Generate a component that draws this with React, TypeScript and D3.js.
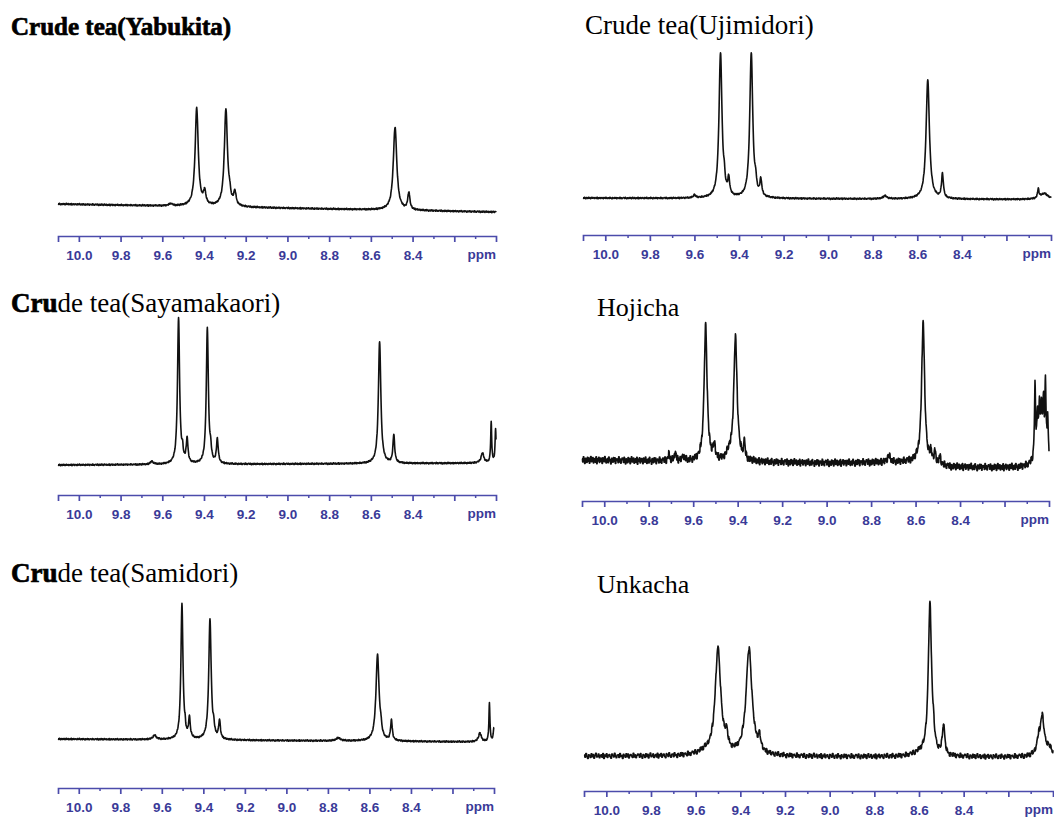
import React, { useEffect, useRef } from 'react';
import * as d3 from 'd3';

// [ppm, height, half width at half height]
type Peak = [number, number, number];

const MAJOR_TICKS = [10.0, 9.8, 9.6, 9.4, 9.2, 9.0, 8.8, 8.6, 8.4, 8.2];
const TICK_LABELS = ['10.0', '9.8', '9.6', '9.4', '9.2', '9.0', '8.8', '8.6', '8.4', ''];
const MINOR_TICKS = [9.9, 9.7, 9.5, 9.3, 9.1, 8.9, 8.7, 8.5, 8.3, 8.1];
const UNIT_LABEL = 'ppm';

// [bold part, regular part]
const TITLES: [string, string][] = [
  ['Crude tea(Yabukita)', ''],
  ['', 'Crude tea(Ujimidori)'],
  ['Cru', 'de tea(Sayamakaori)'],
  ['', 'Hojicha'],
  ['Cru', 'de tea(Samidori)'],
  ['', 'Unkacha'],
];

const YABUKITA_PEAKS: Peak[] = [
  [9.56, 2, 0.01], [9.435, 98, 0.009], [9.397, 13, 0.007], [9.295, 97, 0.009],
  [9.277, 8, 0.005], [9.252, 13, 0.007], [8.484, 83, 0.01], [8.418, 17, 0.006],
];
const UJIMIDORI_PEAKS: Peak[] = [
  [9.6, 3, 0.006], [9.483, 145, 0.008], [9.466, 10, 0.004], [9.446, 16, 0.005],
  [9.345, 145, 0.008], [9.325, 10, 0.004], [9.302, 16, 0.005], [8.745, 3, 0.01],
  [8.553, 119, 0.009], [8.487, 24, 0.005], [8.057, 9, 0.004], [8.03, 6, 0.02],
];
const SAYAMAKAORI_PEAKS: Peak[] = [
  [9.65, 3, 0.008], [9.522, 146, 0.006], [9.503, 10, 0.004], [9.481, 24, 0.005],
  [9.384, 135, 0.006], [9.368, 10, 0.004], [9.336, 24, 0.005], [8.558, 122, 0.007],
  [8.49, 28, 0.005], [8.065, 10, 0.008], [8.023, 40, 0.003], [8.002, 33, 0.003],
];
const HOJICHA_PEAKS: Peak[] = [
  [9.71, 7, 0.004], [9.68, 9, 0.004], [9.645, 5, 0.005], [9.544, 135, 0.008],
  [9.505, 14, 0.005], [9.44, 6, 0.01], [9.41, 124, 0.009], [9.37, 16, 0.004],
  [8.72, 6, 0.008], [8.566, 141, 0.008], [8.53, 10, 0.004], [8.512, 12, 0.004],
  [8.49, 8, 0.004], [8.063, 72, 0.003], [8.052, 40, 0.003], [8.043, 45, 0.003],
  [8.034, 42, 0.003], [8.025, 48, 0.003], [8.016, 70, 0.003], [8.006, 40, 0.003],
  [8.035, 18, 0.025],
];
const SAMIDORI_PEAKS: Peak[] = [
  [9.635, 4, 0.01], [9.503, 135, 0.006], [9.488, 6, 0.003], [9.467, 20, 0.005],
  [9.368, 120, 0.007], [9.35, 8, 0.004], [9.322, 18, 0.005], [8.75, 3, 0.012],
  [8.561, 86, 0.009], [8.545, 8, 0.004], [8.494, 20, 0.005], [8.068, 9, 0.008],
  [8.022, 38, 0.003], [8.0, 14, 0.004],
];
const UNKACHA_PEAKS: Peak[] = [
  [9.56, 3, 0.04], [9.5, 106, 0.015], [9.462, 14, 0.007], [9.361, 106, 0.016],
  [9.314, 12, 0.007], [8.6, 3, 0.03], [8.551, 151, 0.009], [8.535, 10, 0.005],
  [8.49, 31, 0.006], [8.064, 14, 0.01], [8.048, 36, 0.01], [8.02, 8, 0.02],
];

// baseline drift knots [ppm, level]
const YABUKITA_BASE = [[10.1, 8], [8.0, 0]];
const UJIMIDORI_BASE = [[10.1, 1.5], [8.0, 0]];
const SAYAMAKAORI_BASE = [[10.1, 0], [8.0, 2]];
const HOJICHA_BASE = [[10.1, 8], [9.0, 5], [8.6, 6], [8.45, 1], [8.1, 0], [8.0, 0]];
const SAMIDORI_BASE = [[10.1, 3], [8.0, 0]];
const UNKACHA_BASE = [[10.1, 1], [8.0, 0]];

// hand-picked baseline jitter
const NOISE = [
  0.3, -0.5, 0.8, -0.2, -0.9, 0.4, 0.1, -0.6, 0.7, -0.3, 0.5, -0.8, 0.2, 0.9, -0.4, -0.1,
  0.6, -0.7, 0.0, 0.4, -0.5, 0.8, -0.9, 0.3, -0.2, 0.7, -0.6, 0.1, 0.5, -0.3, -0.8, 0.6,
  0.2, -0.4, 0.9, -0.1, -0.7, 0.3, 0.4, -0.6, 0.8, -0.2, 0.1, -0.9, 0.5, 0.0, -0.5, 0.7,
  -0.3, 0.6, -0.8, 0.2, 0.4, -0.1, -0.6, 0.9, -0.4, 0.3, -0.7, 0.1, 0.6,
];

const SPECTRA = [
  { peaks: YABUKITA_PEAKS, base: YABUKITA_BASE },
  { peaks: UJIMIDORI_PEAKS, base: UJIMIDORI_BASE },
  { peaks: SAYAMAKAORI_PEAKS, base: SAYAMAKAORI_BASE },
  { peaks: HOJICHA_PEAKS, base: HOJICHA_BASE },
  { peaks: SAMIDORI_PEAKS, base: SAMIDORI_BASE },
  { peaks: UNKACHA_PEAKS, base: UNKACHA_BASE },
];

const LAYOUT = [
  { left: 58, right: 496, axisY: 236, zeroY: 212, tx: 11, ty: 35, fs: 25, noise: 0.8, step: 3 },
  { left: 583, right: 1051, axisY: 235, zeroY: 199.5, tx: 585, ty: 34, fs: 27, noise: 0.8, step: 3 },
  { left: 58, right: 496, axisY: 495, zeroY: 465, tx: 11, ty: 312, fs: 27, noise: 0.8, step: 3 },
  { left: 582, right: 1049, axisY: 501, zeroY: 468, tx: 597, ty: 316, fs: 26, noise: 4, step: 3 },
  { left: 58, right: 494, axisY: 788, zeroY: 742, tx: 11, ty: 582, fs: 27, noise: 0.8, step: 3 },
  { left: 584, right: 1053, axisY: 791, zeroY: 757, tx: 597, ty: 593, fs: 26, noise: 2.8, step: 4 },
];

const AXIS_COLOR = '#4b4bab';
const LABEL_COLOR = '#3a3a98';
const SERIF = '"Liberation Serif", "Times New Roman", serif';
const SANS = '"Liberation Sans", Arial, sans-serif';

const App = () => {
  const ref = useRef<SVGSVGElement>(null);

  useEffect(() => {
    const svg = d3.select(ref.current);
    svg.selectAll('*').remove();

    const grid = d3.range(0, 2101).map(i => 10.1 - i * 0.001);

    SPECTRA.forEach((spec, p) => {
      const L = LAYOUT[p];
      const x = d3.scaleLinear().domain([10.1, 8.0]).range([L.left, L.right]);
      const y = d3.scaleLinear().domain([0, 160]).range([L.zeroY, L.zeroY - 160]);
      const base = d3
        .scaleLinear()
        .domain(spec.base.map(d => d[0]))
        .range(spec.base.map(d => d[1]));

      const values = grid.map((ppm, i) => {
        let v = base(ppm) + NOISE[Math.floor(i / L.step) % NOISE.length] * L.noise;
        spec.peaks.forEach(([c, h, w]) => {
          v += (h * w * w) / ((ppm - c) * (ppm - c) + w * w);
        });
        return [ppm, v] as [number, number];
      });

      const g = svg.append('g');

      // spectrum
      g.append('path')
        .datum(values)
        .attr('fill', 'none')
        .attr('stroke', '#111')
        .attr('stroke-width', 1.6)
        .attr('stroke-linejoin', 'round')
        .attr(
          'd',
          d3
            .line<[number, number]>()
            .x(d => x(d[0]))
            .y(d => y(d[1]))
        );

      // major ticks + labels
      const major = g
        .append('g')
        .attr('transform', `translate(0,${L.axisY})`)
        .call(
          d3
            .axisBottom(x)
            .tickValues(MAJOR_TICKS)
            .tickSize(6)
            .tickSizeOuter(6)
            .tickPadding(8)
            .tickFormat(d => TICK_LABELS[MAJOR_TICKS.indexOf(+d)])
        );
      major.select('.domain').attr('stroke', AXIS_COLOR).attr('stroke-width', 1.7);
      major.selectAll('.tick line').attr('stroke', AXIS_COLOR).attr('stroke-width', 1.7);
      major
        .selectAll('.tick text')
        .attr('fill', LABEL_COLOR)
        .style('font-family', SANS)
        .style('font-weight', 700)
        .style('font-size', '13.5px');

      // minor ticks
      const minor = g
        .append('g')
        .attr('transform', `translate(0,${L.axisY})`)
        .call(
          d3
            .axisBottom(x)
            .tickValues(MINOR_TICKS)
            .tickSize(3)
            .tickSizeOuter(0)
            .tickFormat(() => '')
        );
      minor.select('.domain').remove();
      minor.selectAll('.tick line').attr('stroke', AXIS_COLOR).attr('stroke-width', 1.5);

      g.append('text')
        .attr('x', L.right)
        .attr('y', L.axisY + 23)
        .attr('text-anchor', 'end')
        .attr('fill', LABEL_COLOR)
        .style('font-family', SANS)
        .style('font-weight', 700)
        .style('font-size', '13.5px')
        .text(UNIT_LABEL);

      // title
      const [boldPart, regularPart] = TITLES[p];
      const t = g
        .append('text')
        .attr('x', L.tx)
        .attr('y', L.ty)
        .attr('fill', '#000')
        .style('font-family', SERIF)
        .style('font-size', `${L.fs}px`);
      if (boldPart) {
        t.append('tspan')
          .style('font-weight', 700)
          .attr('stroke', '#000')
          .attr('stroke-width', 0.7)
          .text(boldPart);
      }
      if (regularPart) t.append('tspan').text(regularPart);
    });
  }, []);

  return (
    <svg
      ref={ref}
      width={1054}
      height={818}
      style={{ position: 'absolute', left: 0, top: 0, background: '#fff' }}
    />
  );
};

export default App;
